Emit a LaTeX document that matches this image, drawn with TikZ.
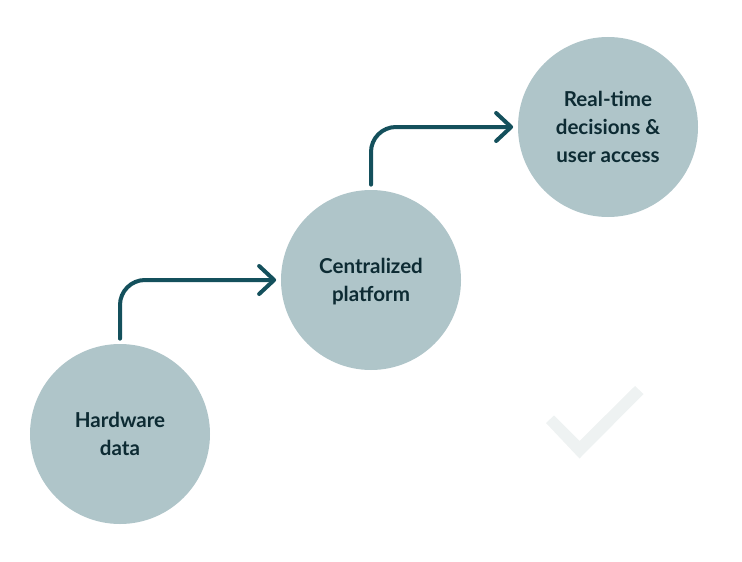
\documentclass[tikz,border=0pt]{standalone}
\usepackage{fontspec}
\setmainfont{Lato}
\usetikzlibrary{arrows.meta}
\definecolor{circlefill}{HTML}{AFC5C9}
\definecolor{arrowteal}{HTML}{14505C}
\definecolor{labelink}{HTML}{0D2B33}
\definecolor{checkgrey}{HTML}{EEF2F2}

\begin{document}
\begin{tikzpicture}[
        stage/.style={circle, fill=circlefill, minimum size=3.6cm, inner sep=0pt, align=center,
            text=labelink, font=\fontsize{11.7}{15.9}\selectfont\bfseries, text depth=0pt},
        connection/.style={-{Straight Barb[length=.3cm, width=.56cm, round]}, arrowteal, line width=.08cm,
            line cap=round, rounded corners=.5cm, shorten <=.1cm, shorten >=.09cm}
    ]
    \useasboundingbox (0, 0) rectangle (14.84, 11.22);

    % Faint check mark
    \fill[checkgrey] (10.92, 2.76) -- (11.08, 2.91) -- (11.59, 2.40) -- (12.70, 3.50)
        -- (12.87, 3.34) -- (11.59, 2.05) -- cycle;

    % Stages
    \node[stage] (H) at (2.4, 2.54) {Hardware\\data};
    \node[stage] (C) at (7.42, 5.62) {Centralized\\platform};
    \node[stage] (R) at (12.16, 8.68) {Real-time\\decisions \&\\user access};

    % Connections
    \draw[connection] (H.north) |- (C.west);
    \draw[connection] (C.north) |- (R.west);

\end{tikzpicture}
\end{document}
